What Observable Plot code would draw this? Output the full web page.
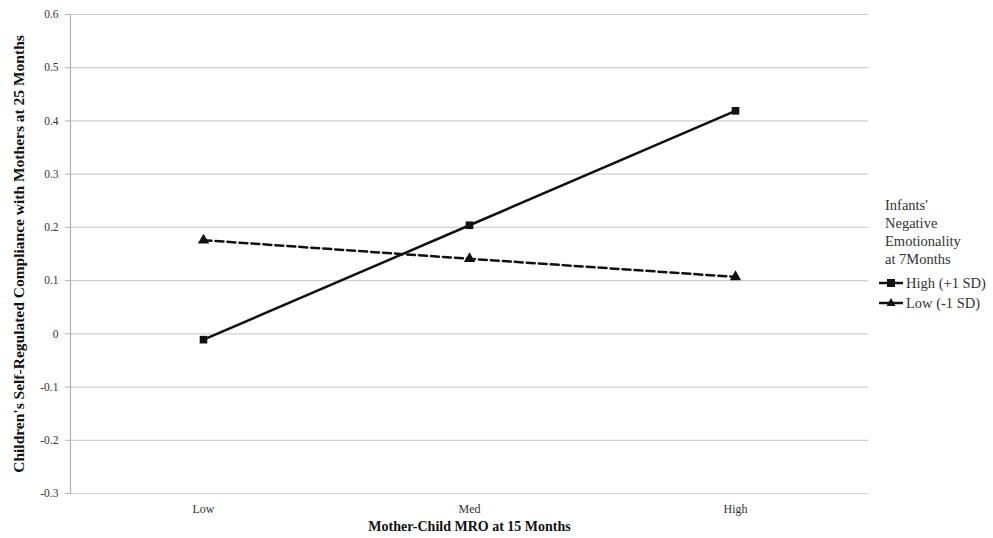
<!DOCTYPE html>
<html>
<head>
<meta charset="utf-8">
<script src="https://cdn.jsdelivr.net/npm/d3@7"></script>
<script src="https://cdn.jsdelivr.net/npm/@observablehq/plot@0.6"></script>
<style>
  body { margin: 0; background: #fff; }
  #wrap { position: relative; width: 993px; height: 538px; font-family: "Liberation Serif", "Times New Roman", serif; }
  #wrap svg [aria-label="x-axis label"] text { font-weight: bold; font-size: 14px; fill: #111; }
  #wrap svg [aria-label="y-axis label"] text { font-weight: bold; font-size: 15.5px; fill: #111; }
  #wrap svg [aria-label="x-axis tick label"] text { font-size: 12px; }
  #legend { position: absolute; left: 873px; top: 190px; }
</style>
</head>
<body>
<div id="wrap"></div>
<script>
const categories = ["Low", "Med", "High"];
const seriesNames = ["High (+1 SD)", "Low (-1 SD)"];
const highValues = [-0.011, 0.204, 0.419];
const lowValues = [0.176, 0.141, 0.107];
const yTicks = [-0.3, -0.2, -0.1, 0, 0.1, 0.2, 0.3, 0.4, 0.5, 0.6];
const xTitle = "Mother-Child MRO at 15 Months";
const yTitle = "Children's Self-Regulated Compliance with Mothers at 25 Months";
const legendTitle = ["Infants'", "Negative", "Emotionality", "at 7Months"];

const highData = categories.map((c, i) => ({cat: c, value: highValues[i], series: seriesNames[0]}));
const lowData = categories.map((c, i) => ({cat: c, value: lowValues[i], series: seriesNames[1]}));

const chart = Plot.plot({
  width: 993,
  height: 538,
  marginLeft: 70,
  marginRight: 125,
  marginTop: 14,
  marginBottom: 45,
  style: {fontFamily: "'Liberation Serif', 'Times New Roman', serif", fontSize: "11.5px", color: "#333", background: "#fff"},
  x: {type: "point", domain: categories, padding: 0.5},
  y: {domain: [-0.3, 0.6]},
  marks: [
    Plot.ruleY(yTicks, {stroke: "#d0d0d0", strokeWidth: 1.2}),
    Plot.frame({anchor: "left", stroke: "#b0b0b0", strokeWidth: 1.2}),
    Plot.axisY({ticks: yTicks, tickSize: 5, tickPadding: 7, tickFormat: d => String(d), stroke: "#b0b0b0", fill: "#333",
      label: yTitle, labelAnchor: "center", labelArrow: "none", labelOffset: 58}),
    Plot.axisX({tickSize: 0, tickPadding: 11, fill: "#333", label: xTitle, labelAnchor: "center", labelArrow: "none", labelOffset: 37}),
    Plot.line(highData, {x: "cat", y: "value", stroke: "#111", strokeWidth: 2.5}),
    Plot.line(lowData, {x: "cat", y: "value", stroke: "#111", strokeWidth: 2.5, strokeDasharray: "8,4"}),
    Plot.dot(highData, {x: "cat", y: "value", symbol: "square", r: 4.3, fill: "#111"}),
    Plot.dot(lowData, {x: "cat", y: "value", symbol: "triangle", r: 4.2, fill: "#111"})
  ]
});
const wrap = document.getElementById("wrap");
wrap.appendChild(chart);

// Legend as a small SVG so it uses the same serif face as the chart
const NS = "http://www.w3.org/2000/svg";
const leg = document.createElementNS(NS, "svg");
leg.setAttribute("id", "legend");
leg.setAttribute("width", "120");
leg.setAttribute("height", "125");
leg.setAttribute("font-family", "'Liberation Serif', 'Times New Roman', serif");
leg.setAttribute("font-size", "14.5");
let html = legendTitle.map((t, i) => `<text x="12" y="${15 + i * 18}" dy="0.32em" fill="#333">${t}</text>`).join("");
const rowY = [93, 113];
html += `<line x1="6" x2="30" y1="${rowY[0]}" y2="${rowY[0]}" stroke="#111" stroke-width="2.5"/><rect x="14" y="${rowY[0] - 4}" width="8" height="8" fill="#111"/>`;
html += `<text x="33" y="${rowY[0]}" dy="0.32em" fill="#333">${seriesNames[0]}</text>`;
html += `<line x1="6" x2="30" y1="${rowY[1]}" y2="${rowY[1]}" stroke="#111" stroke-width="2.5"/><path d="M18,${rowY[1] - 5} L22.5,${rowY[1] + 3} L13.5,${rowY[1] + 3} Z" fill="#111"/>`;
html += `<text x="33" y="${rowY[1]}" dy="0.32em" fill="#333">${seriesNames[1]}</text>`;
leg.innerHTML = html;
wrap.appendChild(leg);
</script>
</body>
</html>
